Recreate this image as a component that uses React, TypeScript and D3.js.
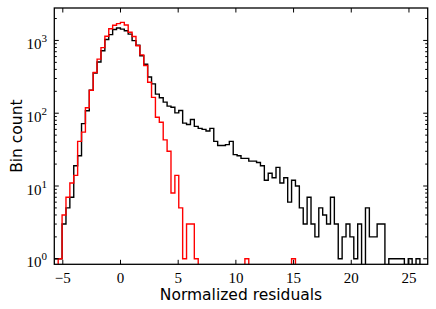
import { useEffect, useRef } from "react";
import * as d3 from "d3";

// histogram bins (same edges for both series)
const binStart = -5.737;
const binWidth = 0.3371;

const blackCounts = [
  1, 1, 3, 5, 7, 19, 26, 72, 108, 207,
  357, 506, 723, 1030, 1202, 1410, 1483, 1428, 1356, 1220,
  994, 859, 615, 470, 315, 253, 183, 163, 142, 125,
  121, 101, 109, 73, 70, 82, 66, 62, 60, 57,
  62, 41, 36, 36, 37, 41, 27, 26, 24, 24,
  22, 22, 21, 19, 12, 15, 13, 18, 11, 13,
  6, 12, 10, 5, 3, 7, 3, 2, 5, 4,
  3, 7, 3, 1, 2, 3, 2, 1, 3, 0,
  5, 2, 2, 3, 3, 0, 1, 1, 1, 1,
  0, 1, 0, 1, 0, 0,
];

const redCounts = [
  0, 1, 4, 7, 11, 14, 41, 55, 119, 207,
  362, 553, 796, 1139, 1446, 1618, 1700, 1772, 1627, 1293,
  1130, 845, 633, 452, 267, 165, 88, 75, 43, 30,
  8, 14, 5, 1, 3, 3, 1, 0, 0, 0,
  0, 0, 0, 0, 0, 0, 0, 0, 0, 1,
  0, 0, 0, 0, 0, 0, 0, 0, 0, 0,
  0, 1, 0, 0, 0, 0, 0, 0, 0, 0,
  0, 0, 0, 0, 0, 0, 0, 0, 0, 0,
  0, 0, 0, 0, 0, 0, 0, 0, 0, 0,
  0, 0, 0, 0, 0, 0,
];

const xTicks = [-5, 0, 5, 10, 15, 20, 25];
const yTicks = [1, 10, 100, 1000];
const yExps = ["0", "1", "2", "3"];

export default function App() {
  const svgRef = useRef<SVGSVGElement>(null);

  useEffect(() => {
    const svg = d3.select(svgRef.current);
    svg.selectAll("*").remove();

    const left = 54.3, right = 427.7, top = 8, bottom = 264.3;
    const nBins = blackCounts.length;
    const x = d3.scaleLinear()
      .domain([binStart, binStart + binWidth * nBins])
      .range([left, right]);
    const y = d3.scaleLog().domain([0.84, 2790]).range([bottom, top]);

    svg.append("rect").attr("width", 436).attr("height", 309).attr("fill", "#fff");

    svg.append("clipPath").attr("id", "plot-clip")
      .append("rect")
      .attr("x", left).attr("y", top)
      .attr("width", right - left).attr("height", bottom - top);

    const stepLine = d3.line<[number, number]>()
      .x(d => x(d[0]))
      .y(d => y(d[1]))
      .curve(d3.curveStepAfter);

    const drawHist = (counts: number[], color: string) => {
      const low = 1e-3;
      const pts: [number, number][] = [[binStart, low]];
      counts.forEach((c, i) => pts.push([binStart + i * binWidth, c > 0 ? c : low]));
      pts.push([binStart + counts.length * binWidth, low]);
      svg.append("path")
        .attr("d", stepLine(pts))
        .attr("fill", "none")
        .attr("stroke", color)
        .attr("stroke-width", 1.4)
        .attr("clip-path", "url(#plot-clip)");
    };

    drawHist(blackCounts, "#000");
    drawHist(redCounts, "#ff0000");

    // ticks, inward on all four sides
    const tk = svg.append("g").attr("stroke", "#000").attr("stroke-width", 1);
    xTicks.forEach(t => {
      const px = x(t);
      tk.append("line").attr("x1", px).attr("x2", px).attr("y1", bottom).attr("y2", bottom - 4.5);
      tk.append("line").attr("x1", px).attr("x2", px).attr("y1", top).attr("y2", top + 4.5);
    });
    for (let dec = 0; dec < 4; dec++) {
      for (let m = 1; m <= 9; m++) {
        const v = m * Math.pow(10, dec);
        if (v < 0.84 || v > 2790) continue;
        const py = y(v);
        const len = m === 1 ? 4.5 : 2.5;
        tk.append("line").attr("x1", left).attr("x2", left + len).attr("y1", py).attr("y2", py);
        tk.append("line").attr("x1", right).attr("x2", right - len).attr("y1", py).attr("y2", py);
      }
    }

    // frame
    svg.append("rect")
      .attr("x", left).attr("y", top)
      .attr("width", right - left).attr("height", bottom - top)
      .attr("fill", "none").attr("stroke", "#000").attr("stroke-width", 1.3);

    // tick labels
    const serif = "'Liberation Serif', 'DejaVu Serif', serif";
    xTicks.forEach(t => {
      svg.append("text")
        .attr("x", x(t)).attr("y", 282.5)
        .attr("text-anchor", "middle")
        .style("font-family", serif).style("font-size", "15px")
        .text(t < 0 ? "\u2212" + Math.abs(t) : String(t));
    });
    yTicks.forEach((t, i) => {
      const txt = svg.append("text")
        .attr("x", 47).attr("y", y(t) + 8.5)
        .attr("text-anchor", "end")
        .style("font-family", serif).style("font-size", "15px");
      txt.append("tspan").text("10");
      txt.append("tspan").attr("dy", -7).style("font-size", "11px").text(yExps[i]);
    });

    // axis labels
    const sans = "'DejaVu Sans', sans-serif";
    svg.append("text")
      .attr("x", (left + right) / 2).attr("y", 300)
      .attr("text-anchor", "middle")
      .style("font-family", sans).style("font-size", "15.5px")
      .text("Normalized residuals");
    svg.append("g")
      .attr("transform", `translate(21.5, ${(top + bottom) / 2})`)
      .append("text")
      .attr("transform", "rotate(-90)")
      .attr("text-anchor", "middle")
      .style("font-family", sans).style("font-size", "15.5px")
      .text("Bin count");
  }, []);

  return (
    <svg
      ref={svgRef}
      width={436}
      height={309}
      style={{ position: "absolute", left: 0, top: 0 }}
    />
  );
}
